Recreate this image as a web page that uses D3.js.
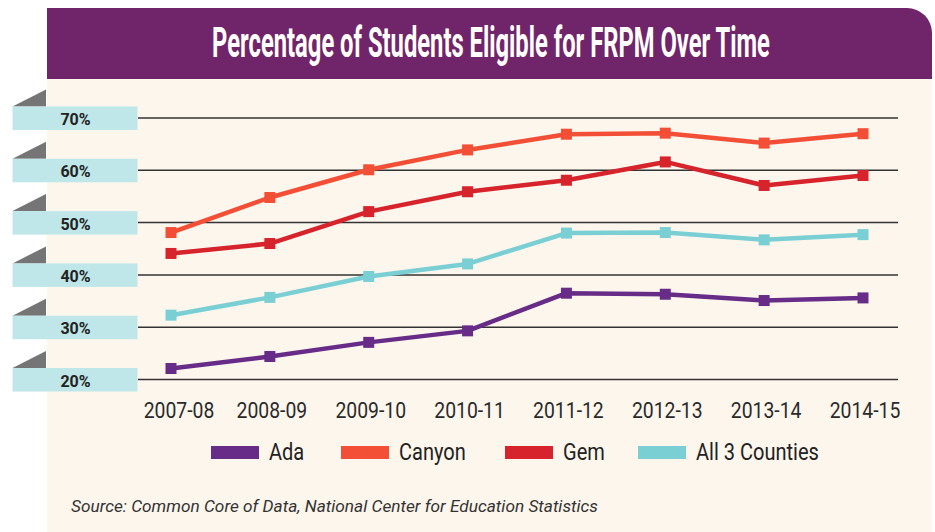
<!DOCTYPE html>
<html>
<head>
<meta charset="utf-8">
<script src="https://cdn.jsdelivr.net/npm/d3@7"></script>
<style>
  body { margin: 0; background: #fff; }
  svg { display: block; }
</style>
</head>
<body>
<div id="chart"></div>
<script>
var years = ["2007-08", "2008-09", "2009-10", "2010-11", "2011-12", "2012-13", "2013-14", "2014-15"];
var ada = [22.1, 24.4, 27.1, 29.3, 36.5, 36.3, 35.1, 35.6];
var canyon = [48.1, 54.8, 60.1, 63.9, 66.9, 67.1, 65.2, 67.0];
var gem = [44.1, 46.0, 52.1, 55.9, 58.1, 61.6, 57.1, 59.0];
var allCounties = [32.3, 35.7, 39.7, 42.1, 48.0, 48.1, 46.7, 47.7];
var tickValues = [20, 30, 40, 50, 60, 70];
var seriesNames = ["Ada", "Canyon", "Gem", "All 3 Counties"];
var seriesColors = ["#672c87", "#f34f37", "#d6232c", "#7acfd4"];

var width = 935, height = 532;
var font = "Roboto, 'Noto Sans', sans-serif";

var series = [ada, canyon, gem, allCounties].map(function (vals, i) {
    return { name: seriesNames[i], color: seriesColors[i], values: vals };
});

var svg = d3.select("#chart").append("svg")
    .attr("width", width)
    .attr("height", height);

// squeeze text horizontally (stands in for a condensed face)
function condense(sel, k) {
    sel.each(function () {
        var w = this.getComputedTextLength();
        d3.select(this).attr("textLength", w * k).attr("lengthAdjust", "spacingAndGlyphs");
    });
}

// panel + header
svg.append("rect")
    .attr("x", 47).attr("y", 30)
    .attr("width", 885).attr("height", height - 30)
    .style("fill", "#fdf6ec");

svg.append("path")
    .attr("d", "M47,8 H907 A25,25 0 0 1 932,33 V79 H47 Z")
    .style("fill", "#70246a");

var title = svg.append("text")
    .attr("text-anchor", "middle")
    .style("font-family", font)
    .style("font-weight", "bold")
    .style("font-size", "42px")
    .style("fill", "#fff")
    .text("Percentage of Students Eligible for FRPM Over Time");
var tw = title.node().getComputedTextLength();
title.attr("transform", "translate(491,57) scale(" + (558 / tw) + ",1)");

var x = d3.scalePoint().domain(years).range([171, 863]);
var y = d3.scaleLinear().domain([20, 70]).range([379.5, 118]);

// grid lines
svg.append("g").selectAll("line")
    .data(tickValues)
    .enter().append("line")
    .attr("x1", 138).attr("x2", 898)
    .attr("y1", function (d) { return y(d); })
    .attr("y2", function (d) { return y(d); })
    .style("stroke", "#333")
    .style("stroke-width", 1.5);

// tick label tabs
var tabs = svg.append("g").selectAll("g")
    .data(tickValues)
    .enter().append("g")
    .attr("transform", function (d) { return "translate(0," + y(d) + ")"; });

tabs.append("path")
    .attr("d", "M12.5,-11.5 L46,-11.5 L46,-28.5 Z")
    .style("fill", "#757575");

tabs.append("rect")
    .attr("x", 12.5).attr("y", -11.5)
    .attr("width", 125).attr("height", 23.5)
    .style("fill", "#bfe6e8");

tabs.append("text")
    .attr("x", 75.5).attr("y", 7)
    .attr("text-anchor", "middle")
    .style("font-family", font)
    .style("font-weight", "bold")
    .style("font-size", "16px")
    .style("fill", "#222")
    .text(function (d) { return d + "%"; });

// x labels
svg.append("g").selectAll("text")
    .data(years)
    .enter().append("text")
    .attr("x", function (d, i) { return x(d) + (i === 0 ? 8 : 2); })
    .attr("y", 418)
    .attr("text-anchor", "middle")
    .style("font-family", font)
    .style("font-size", "22px")
    .style("fill", "#2a2a2a")
    .text(function (d) { return d; })
    .call(condense, 0.88);

// lines
var line = d3.line()
    .x(function (d, i) { return x(years[i]); })
    .y(function (d) { return y(d); });

var groups = svg.append("g").selectAll("g")
    .data(series)
    .enter().append("g");

groups.append("path")
    .attr("d", function (d) { return line(d.values); })
    .style("fill", "none")
    .style("stroke", function (d) { return d.color; })
    .style("stroke-width", 4.5)
    .style("stroke-linejoin", "round");

groups.selectAll("rect")
    .data(function (d) { return d.values.map(function (v, i) { return { v: v, i: i, color: d.color }; }); })
    .enter().append("rect")
    .attr("x", function (d) { return x(years[d.i]) - 5.5; })
    .attr("y", function (d) { return y(d.v) - 5.5; })
    .attr("width", 11).attr("height", 11)
    .style("fill", function (d) { return d.color; });

// legend
var legendX = [211, 341, 505, 638];
var legends = svg.append("g").selectAll("g")
    .data(series)
    .enter().append("g")
    .attr("transform", function (d, i) { return "translate(" + legendX[i] + ",446)"; });

legends.append("rect")
    .attr("width", 48).attr("height", 13)
    .style("fill", function (d) { return d.color; });

legends.append("text")
    .attr("x", 58).attr("y", 13.5)
    .style("font-family", font)
    .style("font-size", "23px")
    .style("fill", "#222")
    .text(function (d) { return d.name; })
    .call(condense, 0.87);

svg.append("text")
    .attr("x", 71).attr("y", 512)
    .style("font-family", font)
    .style("font-style", "italic")
    .style("font-size", "17px")
    .style("fill", "#333")
    .text("Source: Common Core of Data, National Center for Education Statistics")
    .attr("textLength", 527)
    .attr("lengthAdjust", "spacingAndGlyphs");
</script>
</body>
</html>
